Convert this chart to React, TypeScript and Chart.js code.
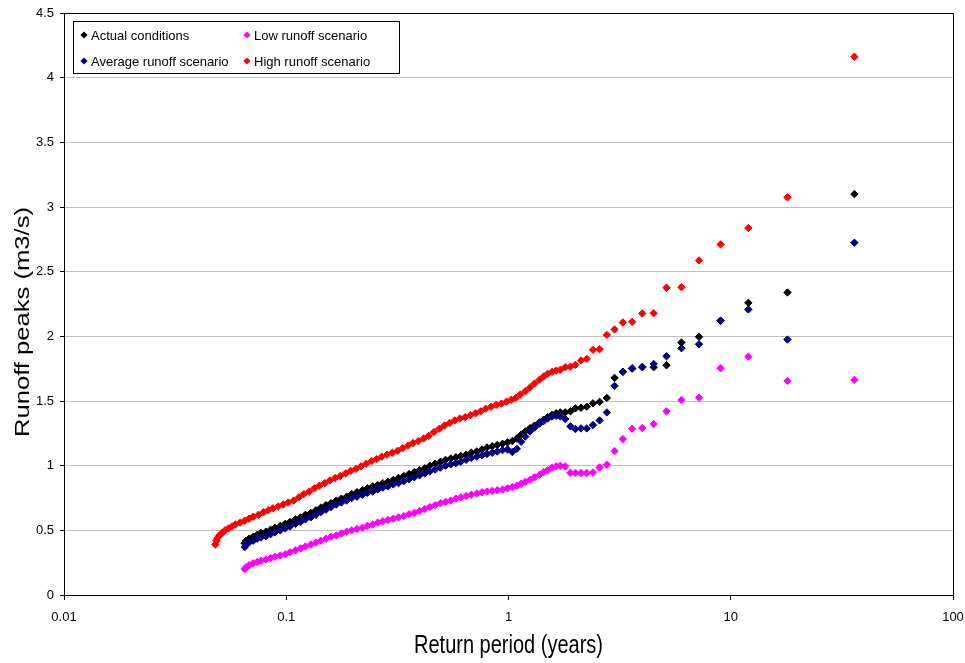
import React, { useEffect, useRef } from "react";
import { Chart, registerables } from "chart.js";

Chart.register(...registerables);

const FONT = "'Liberation Sans', Arial, Helvetica, sans-serif";

const seriesNames = [
  "Actual conditions",
  "Average runoff scenario",
  "Low runoff scenario",
  "High runoff scenario",
];
const seriesColors = ["#000000", "#000080", "#FF00FF", "#FF0000"];

const xTickValues = [0.01, 0.1, 1, 10, 100];
const xTickLabels = ["0.01", "0.1", "1", "10", "100"];
const yMin = 0;
const yMax = 4.5;
const yStep = 0.5;

const xTitle = "Return period (years)";
const yTitle = "Runoff peaks (m3/s)";

// [return period (years), runoff peak (m3/s)]
const actualConditions: [number, number][] = [
  [0.065, 0.4], [0.066, 0.42], [0.068, 0.435], [0.071, 0.45], [0.074, 0.465],
  [0.077, 0.48], [0.081, 0.49], [0.085, 0.505], [0.089, 0.52], [0.094, 0.535],
  [0.099, 0.55], [0.104, 0.565], [0.11, 0.585], [0.116, 0.6], [0.122, 0.62],
  [0.129, 0.635], [0.136, 0.655], [0.143, 0.675], [0.151, 0.695], [0.159, 0.71],
  [0.168, 0.73], [0.177, 0.745], [0.187, 0.76], [0.197, 0.78], [0.208, 0.795],
  [0.22, 0.81], [0.232, 0.825], [0.245, 0.84], [0.258, 0.85], [0.272, 0.865],
  [0.287, 0.875], [0.303, 0.89], [0.32, 0.905], [0.338, 0.92], [0.357, 0.935],
  [0.377, 0.95], [0.398, 0.965], [0.42, 0.98], [0.443, 1.0], [0.468, 1.015],
  [0.494, 1.03], [0.521, 1.045], [0.55, 1.055], [0.58, 1.065], [0.61, 1.075],
  [0.645, 1.085], [0.68, 1.1], [0.72, 1.11], [0.76, 1.125], [0.8, 1.14],
  [0.845, 1.15], [0.89, 1.16], [0.94, 1.17], [0.99, 1.18], [1.04, 1.19],
  [1.09, 1.21], [1.14, 1.24], [1.19, 1.265], [1.25, 1.29], [1.31, 1.31],
  [1.38, 1.335], [1.44, 1.355], [1.5, 1.375], [1.57, 1.395], [1.64, 1.405],
  [1.71, 1.412], [1.8, 1.412], [1.9, 1.42], [2.0, 1.443], [2.12, 1.448],
  [2.25, 1.456], [2.4, 1.482], [2.57, 1.493], [2.77, 1.524], [3.0, 1.679],
  [3.27, 1.725], [3.6, 1.75], [4.0, 1.761], [4.5, 1.761], [5.14, 1.776],
  [6.0, 1.952], [7.2, 1.996], [9.0, 2.12], [12.0, 2.259], [18.0, 2.339],
  [36.0, 3.1],
];

const averageRunoff: [number, number][] = [
  [0.065, 0.37], [0.066, 0.39], [0.068, 0.405], [0.071, 0.42], [0.074, 0.435],
  [0.077, 0.445], [0.081, 0.455], [0.085, 0.47], [0.089, 0.485], [0.094, 0.5],
  [0.099, 0.515], [0.104, 0.53], [0.11, 0.55], [0.116, 0.565], [0.122, 0.585],
  [0.129, 0.6], [0.136, 0.62], [0.143, 0.64], [0.151, 0.66], [0.159, 0.68],
  [0.168, 0.7], [0.177, 0.715], [0.187, 0.73], [0.197, 0.75], [0.208, 0.76],
  [0.22, 0.775], [0.232, 0.79], [0.245, 0.8], [0.258, 0.815], [0.272, 0.83],
  [0.287, 0.84], [0.303, 0.855], [0.32, 0.865], [0.338, 0.88], [0.357, 0.895],
  [0.377, 0.91], [0.398, 0.925], [0.42, 0.94], [0.443, 0.955], [0.468, 0.97],
  [0.494, 0.985], [0.521, 1.0], [0.55, 1.01], [0.58, 1.02], [0.61, 1.03],
  [0.645, 1.045], [0.68, 1.06], [0.72, 1.07], [0.76, 1.08], [0.8, 1.09],
  [0.845, 1.1], [0.89, 1.11], [0.94, 1.12], [0.99, 1.125], [1.04, 1.105],
  [1.09, 1.13], [1.14, 1.185], [1.19, 1.225], [1.25, 1.265], [1.31, 1.295],
  [1.38, 1.325], [1.44, 1.345], [1.5, 1.365], [1.57, 1.38], [1.64, 1.385],
  [1.71, 1.381], [1.8, 1.361], [1.9, 1.304], [2.0, 1.283], [2.12, 1.288],
  [2.25, 1.288], [2.4, 1.314], [2.57, 1.35], [2.77, 1.412], [3.0, 1.617],
  [3.27, 1.727], [3.6, 1.753], [4.0, 1.764], [4.5, 1.787], [5.14, 1.846],
  [6.0, 1.908], [7.2, 1.939], [9.0, 2.122], [12.0, 2.208], [18.0, 1.975],
  [36.0, 2.724],
];

const lowRunoff: [number, number][] = [
  [0.065, 0.2], [0.066, 0.215], [0.068, 0.23], [0.071, 0.245], [0.074, 0.255],
  [0.077, 0.265], [0.081, 0.275], [0.085, 0.285], [0.089, 0.295], [0.094, 0.305],
  [0.099, 0.315], [0.104, 0.33], [0.11, 0.345], [0.116, 0.36], [0.122, 0.375],
  [0.129, 0.39], [0.136, 0.405], [0.143, 0.42], [0.151, 0.435], [0.159, 0.45],
  [0.168, 0.46], [0.177, 0.475], [0.187, 0.49], [0.197, 0.5], [0.208, 0.51],
  [0.22, 0.52], [0.232, 0.535], [0.245, 0.545], [0.258, 0.56], [0.272, 0.57],
  [0.287, 0.58], [0.303, 0.59], [0.32, 0.6], [0.338, 0.61], [0.357, 0.625],
  [0.377, 0.635], [0.398, 0.65], [0.42, 0.665], [0.443, 0.68], [0.468, 0.695],
  [0.494, 0.71], [0.521, 0.72], [0.55, 0.73], [0.58, 0.745], [0.61, 0.755],
  [0.645, 0.765], [0.68, 0.775], [0.72, 0.785], [0.76, 0.795], [0.8, 0.8],
  [0.845, 0.805], [0.89, 0.81], [0.94, 0.815], [0.99, 0.825], [1.04, 0.835],
  [1.09, 0.845], [1.14, 0.86], [1.19, 0.875], [1.25, 0.89], [1.31, 0.91],
  [1.38, 0.93], [1.44, 0.95], [1.5, 0.965], [1.57, 0.985], [1.64, 0.995],
  [1.71, 0.999], [1.8, 0.994], [1.9, 0.945], [2.0, 0.943], [2.12, 0.943],
  [2.25, 0.943], [2.4, 0.947], [2.57, 0.986], [2.77, 1.007], [3.0, 1.113],
  [3.27, 1.206], [3.6, 1.286], [4.0, 1.291], [4.5, 1.322], [5.14, 1.42],
  [6.0, 1.508], [7.2, 1.526], [9.0, 1.753], [12.0, 1.843], [18.0, 1.655],
  [36.0, 1.663],
];

const highRunoff: [number, number][] = [
  [0.048, 0.39], [0.0485, 0.42], [0.049, 0.44], [0.05, 0.46], [0.0515, 0.48],
  [0.053, 0.5], [0.055, 0.515], [0.057, 0.53], [0.059, 0.545], [0.062, 0.56],
  [0.065, 0.575], [0.068, 0.59], [0.071, 0.605], [0.075, 0.62], [0.079, 0.64],
  [0.083, 0.655], [0.087, 0.67], [0.092, 0.685], [0.097, 0.7], [0.102, 0.715],
  [0.108, 0.73], [0.114, 0.755], [0.12, 0.78], [0.127, 0.8], [0.134, 0.825],
  [0.141, 0.845], [0.149, 0.865], [0.157, 0.885], [0.166, 0.905], [0.175, 0.92],
  [0.185, 0.94], [0.195, 0.96], [0.206, 0.975], [0.217, 0.995], [0.229, 1.015],
  [0.242, 1.035], [0.255, 1.05], [0.269, 1.07], [0.284, 1.085], [0.3, 1.1],
  [0.317, 1.115], [0.334, 1.135], [0.353, 1.155], [0.372, 1.175], [0.393, 1.19],
  [0.415, 1.21], [0.438, 1.23], [0.462, 1.26], [0.488, 1.285], [0.515, 1.31],
  [0.543, 1.33], [0.573, 1.35], [0.605, 1.365], [0.638, 1.375], [0.674, 1.39],
  [0.711, 1.405], [0.75, 1.42], [0.79, 1.44], [0.835, 1.455], [0.88, 1.47],
  [0.93, 1.48], [0.98, 1.495], [1.03, 1.51], [1.08, 1.525], [1.13, 1.55],
  [1.19, 1.575], [1.25, 1.605], [1.31, 1.635], [1.38, 1.665], [1.44, 1.69],
  [1.5, 1.71], [1.57, 1.725], [1.64, 1.735],
  [1.71, 1.741], [1.8, 1.761], [1.9, 1.766], [2.0, 1.779], [2.12, 1.813],
  [2.25, 1.826], [2.4, 1.895], [2.57, 1.9], [2.77, 2.011], [3.0, 2.053],
  [3.27, 2.107], [3.6, 2.112], [4.0, 2.177], [4.5, 2.179], [5.14, 2.376],
  [6.0, 2.38], [7.2, 2.587], [9.0, 2.711], [12.0, 2.837], [18.0, 3.075],
  [36.0, 4.162],
];

const seriesData = [actualConditions, averageRunoff, lowRunoff, highRunoff];

function drawDiamond(ctx: CanvasRenderingContext2D, x: number, y: number, r: number, color: string) {
  ctx.beginPath();
  ctx.moveTo(x, y - r);
  ctx.lineTo(x + r, y);
  ctx.lineTo(x, y + r);
  ctx.lineTo(x - r, y);
  ctx.closePath();
  ctx.fillStyle = color;
  ctx.fill();
}

const framePlugin = {
  id: "plotFrame",
  beforeDatasetsDraw(chart: any) {
    const { ctx, chartArea } = chart;
    ctx.save();
    ctx.strokeStyle = "#000";
    ctx.lineWidth = 1;
    const l = Math.round(chartArea.left) + 0.5;
    const t = Math.round(chartArea.top) + 0.5;
    const r = Math.round(chartArea.right) + 0.5;
    const b = Math.round(chartArea.bottom) + 0.5;
    ctx.strokeRect(l, t, r - l, b - t);
    ctx.restore();
  },
};

const titlesPlugin = {
  id: "axisTitles",
  afterDraw(chart: any) {
    const { ctx, chartArea } = chart;
    ctx.save();
    ctx.fillStyle = "#000";
    ctx.textAlign = "center";
    ctx.textBaseline = "middle";
    ctx.font = `20px ${FONT}`;
    // y title (rotated)
    ctx.save();
    ctx.translate(23, (chartArea.top + chartArea.bottom) / 2 + 18);
    ctx.rotate(-Math.PI / 2);
    ctx.scale(1.28, 1);
    ctx.fillText(yTitle, 0, 0);
    ctx.restore();
    // x title
    ctx.save();
    ctx.translate((chartArea.left + chartArea.right) / 2, chartArea.bottom + 51);
    ctx.scale(1, 1.25);
    ctx.fillText(xTitle, 0, 0);
    ctx.restore();
    ctx.restore();
  },
};

const legendPlugin = {
  id: "insideLegend",
  afterDraw(chart: any) {
    const { ctx, chartArea } = chart;
    const left = Math.round(chartArea.left) + 9;
    const top = Math.round(chartArea.top) + 8;
    const w = 326;
    const h = 52;
    ctx.save();
    ctx.fillStyle = "#fff";
    ctx.fillRect(left, top, w, h);
    ctx.strokeStyle = "#000";
    ctx.lineWidth = 1;
    ctx.strokeRect(left + 0.5, top + 0.5, w, h);
    const colX = [left + 11, left + 174];
    const rowY = [top + 14, top + 40];
    // column-major order: Actual, Average | Low, High
    const layout = [
      [0, 0, 0],
      [1, 0, 1],
      [2, 1, 0],
      [3, 1, 1],
    ];
    ctx.font = `13px ${FONT}`;
    ctx.textBaseline = "middle";
    ctx.textAlign = "left";
    for (const [s, c, r] of layout) {
      drawDiamond(ctx, colX[c], rowY[r], 3.6, seriesColors[s]);
      ctx.fillStyle = "#000";
      ctx.fillText(seriesNames[s], colX[c] + 7, rowY[r] + 1);
    }
    ctx.restore();
  },
};

export default function App() {
  const ref = useRef<HTMLCanvasElement>(null);

  useEffect(() => {
    if (!ref.current) return;
    const mk = (i: number) => ({
      label: seriesNames[i],
      data: seriesData[i].map(([x, y]) => ({ x, y })),
      backgroundColor: seriesColors[i],
      borderColor: seriesColors[i],
      pointStyle: "rectRot",
      pointRadius: 3.7,
      pointBorderWidth: 1,
      showLine: false,
    });
    // dataset 0 is drawn on top: average (blue) above actual (black)
    const chart = new Chart(ref.current, {
      type: "scatter",
      data: { datasets: [mk(1), mk(0), mk(2), mk(3)] as any },
      options: {
        animation: false,
        responsive: true,
        maintainAspectRatio: false,
        layout: { padding: { top: 13, right: 12, left: 0, bottom: 0 } },
        plugins: {
          legend: { display: false },
          tooltip: { enabled: false },
        },
        scales: {
          x: {
            type: "logarithmic",
            min: xTickValues[0],
            max: xTickValues[xTickValues.length - 1],
            afterBuildTicks: (s: any) => {
              s.ticks = xTickValues.map((v) => ({ value: v }));
            },
            ticks: {
              autoSkip: false,
              maxRotation: 0,
              minRotation: 0,
              color: "#000",
              font: { family: FONT, size: 13 },
              padding: 10,
              callback: (v: any) => {
                const i = xTickValues.indexOf(Number(v));
                return i >= 0 ? xTickLabels[i] : "";
              },
            },
            grid: {
              drawOnChartArea: false,
              drawTicks: true,
              tickLength: 5,
              tickColor: "#000",
              color: "#000",
            },
            border: { display: true, color: "#000", width: 1 },
            afterFit: (s: any) => {
              s.height = 68;
              s.paddingLeft = 0;
              s.paddingRight = 0;
            },
          } as any,
          y: {
            type: "linear",
            min: yMin,
            max: yMax,
            ticks: {
              stepSize: yStep,
              color: "#000",
              font: { family: FONT, size: 13 },
              padding: 6,
              callback: (v: any) => String(Number(v)),
            },
            grid: {
              color: "#c0c0c0",
              lineWidth: 1,
              drawTicks: true,
              tickLength: 4,
              tickColor: "#000",
            },
            border: { display: true, color: "#000", width: 1 },
            afterFit: (s: any) => {
              s.width = 64;
              s.paddingTop = 0;
              s.paddingBottom = 0;
            },
          } as any,
        },
      },
      plugins: [framePlugin, legendPlugin, titlesPlugin],
    });
    return () => chart.destroy();
  }, []);

  return (
    <div
      style={{
        position: "fixed",
        left: 0,
        top: 0,
        width: 965,
        height: 663,
        background: "#fff",
      }}
    >
      <canvas ref={ref} />
    </div>
  );
}
